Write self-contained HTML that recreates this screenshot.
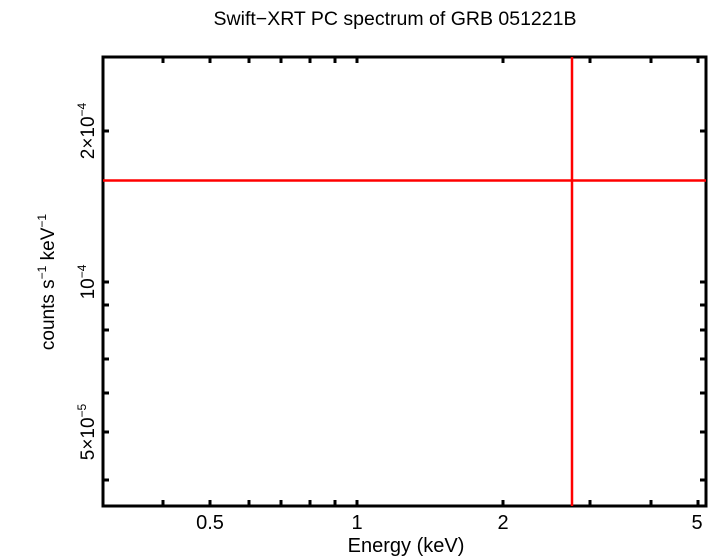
<!DOCTYPE html>
<html><head><meta charset="utf-8"><style>
html,body{margin:0;padding:0;background:#fff;}
svg{display:block;}
text{font-family:"Liberation Sans",sans-serif;fill:#000;}
</style></head><body>
<svg width="715" height="556" viewBox="0 0 715 556" xmlns="http://www.w3.org/2000/svg">
<text x="395" y="25" font-size="19.5" text-anchor="middle">Swift−XRT PC spectrum of GRB 051221B</text>
<g stroke="#000" stroke-width="3">
<path d="M163 506v-6M210 506v-6M249 506v-6M281 506v-6M310 506v-6M335 506v-6M357 506v-6M503 506v-6M590 506v-6M651 506v-6M698 506v-6
M163 57v6M210 57v6M249 57v6M281 57v6M310 57v6M335 57v6M357 57v6M503 57v6M590 57v6M651 57v6M698 57v6
M103 131h6M103 282h6M103 305h6M103 330h6M103 359h6M103 393h6M103 432h6M103 480h6
M706 131h-6M706 282h-6M706 305h-6M706 330h-6M706 359h-6M706 393h-6M706 432h-6M706 480h-6"/>
</g>
<rect x="103" y="57" width="603" height="449" fill="none" stroke="#000" stroke-width="3"/>
<line x1="103" y1="180.5" x2="706" y2="180.5" stroke="#f00" stroke-width="2.5"/>
<line x1="572" y1="57" x2="572" y2="506" stroke="#f00" stroke-width="2.5"/>
<g font-size="20" text-anchor="middle">
<text x="210" y="529">0.5</text>
<text x="357" y="529">1</text>
<text x="503" y="529">2</text>
<text x="697" y="529">5</text>
<text x="406" y="552">Energy (keV)</text>
</g>
<g font-size="19">
<text transform="translate(94,131) rotate(-90)" text-anchor="middle">2×10<tspan font-size="12" dy="-8">−4</tspan></text>
<text transform="translate(94,282) rotate(-90)" text-anchor="middle">10<tspan font-size="12" dy="-8">−4</tspan></text>
<text transform="translate(94,432) rotate(-90)" text-anchor="middle">5×10<tspan font-size="12" dy="-8">−5</tspan></text>
<text transform="translate(54,282) rotate(-90)" text-anchor="middle">counts s<tspan font-size="12" dy="-8">−1</tspan><tspan dy="8"> keV</tspan><tspan font-size="12" dy="-8">−1</tspan></text>
</g>
</svg>
</body></html>
